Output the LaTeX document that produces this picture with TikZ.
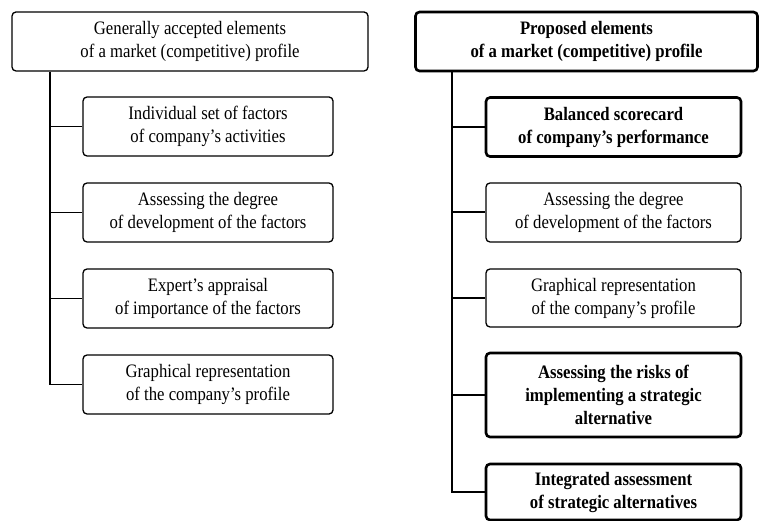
\documentclass[tikz,border=0pt]{standalone}
\usepackage{fontspec}
\setmainfont{Liberation Serif}[FakeStretch=0.88]
\begin{document}
\begin{tikzpicture}[x=1pt,y=-1pt,
  box/.style={draw, line width=1.3pt, rounded corners=4pt, align=center, inner sep=0pt, font=\fontsize{19}{23}\selectfont},
  boldbox/.style={box, line width=2.6pt, font=\fontsize{19}{23}\selectfont\bfseries},
  link/.style={line width=1.3pt},
  boldlink/.style={line width=2pt}]
\useasboundingbox (0,0) rectangle (759,521);
% left column
\node[box, minimum width=356pt, minimum height=59pt] (lt) at (190,41.5) {Generally accepted elements\\of a market (competitive) profile};
\node[box, minimum width=250pt, minimum height=59pt] (l1) at (208,126.5) {Individual set of factors\\of company's activities};
\node[box, minimum width=250pt, minimum height=59pt] (l2) at (208,212.5) {Assessing the degree\\of development of the factors};
\node[box, minimum width=250pt, minimum height=59pt] (l3) at (208,298.5) {Expert's appraisal\\of importance of the factors};
\node[box, minimum width=250pt, minimum height=59pt] (l4) at (208,384.5) {Graphical representation\\of the company's profile};
\coordinate (lx) at (50,0);
\draw[link] (lx |- lt.south) -- (lx |- l4.west) -- (l4.west);
\draw[link] (lx |- l1.west) -- (l1.west);
\draw[link] (lx |- l2.west) -- (l2.west);
\draw[link] (lx |- l3.west) -- (l3.west);
% right column
\node[boldbox, minimum width=342pt, minimum height=59pt] (rt) at (586.5,41.5) {Proposed elements\\of a market (competitive) profile};
\node[boldbox, minimum width=255pt, minimum height=59pt] (r1) at (613.5,127) {Balanced scorecard\\of company's performance};
\node[box, minimum width=255pt, minimum height=59pt] (r2) at (613.5,212.5) {Assessing the degree\\of development of the factors};
\node[box, minimum width=255pt, minimum height=58pt] (r3) at (613.5,298) {Graphical representation\\of the company's profile};
\node[boldbox, minimum width=255pt, minimum height=84pt] (r4) at (613.5,395) {Assessing the risks of\\implementing a strategic\\alternative};
\node[boldbox, minimum width=255pt, minimum height=56pt] (r5) at (613.5,492) {Integrated assessment\\of strategic alternatives};
\coordinate (rx) at (452,0);
\draw[boldlink] (rx |- rt.south) -- (rx |- r5.west) -- (r5.west);
\draw[boldlink] (rx |- r1.west) -- (r1.west);
\draw[boldlink] (rx |- r2.west) -- (r2.west);
\draw[boldlink] (rx |- r3.west) -- (r3.west);
\draw[boldlink] (rx |- r4.west) -- (r4.west);
\end{tikzpicture}
\end{document}
